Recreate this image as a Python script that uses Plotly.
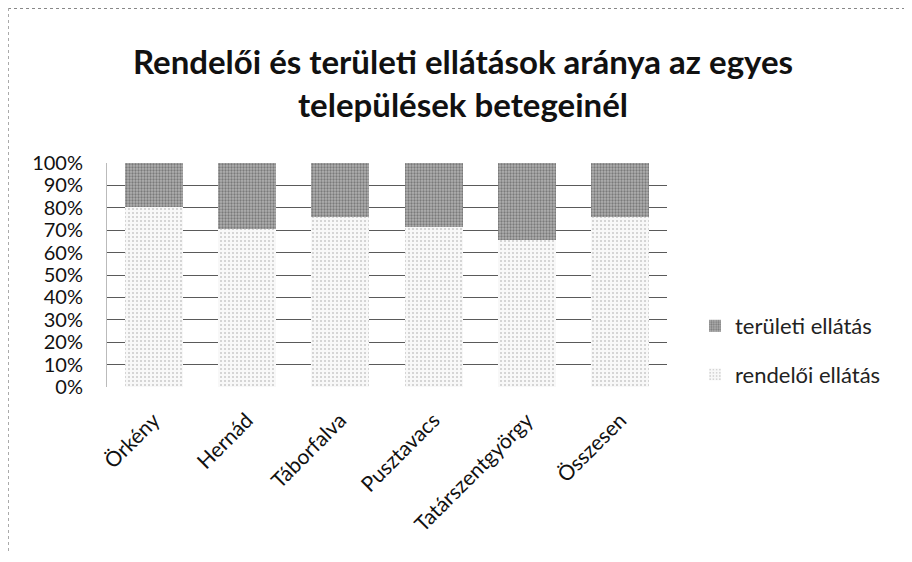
import plotly.graph_objects as go

categories = ["Örkény", "Hernád", "Táborfalva", "Pusztavacs", "Tatárszentgyörgy", "Összesen"]
rendeloi = [0.805, 0.705, 0.76, 0.715, 0.655, 0.76]
teruleti = [1 - v for v in rendeloi]
series_names = ["rendelői ellátás", "területi ellátás"]
title_text = "Rendelői és területi ellátások aránya az egyes<br>települések betegeinél"

# page has an 8px body margin; figure coordinates = page coordinates - 8
OFF = 8
W, H = 896, 546
L = 107 - OFF
T = 163 - OFF
R = W - (667 - OFF)
B = H - (387 - OFF)
pw = W - L - R
ph = H - T - B

def px_x(x):  # page px -> paper
    return (x - OFF - L) / pw

def px_y(y):
    return (H - B - (y - OFF)) / ph

fig = go.Figure()
fig.add_trace(go.Bar(
    x=categories, y=rendeloi, name=series_names[0], legendgroup="a", legendrank=2,
    marker=dict(color="white", line=dict(width=0),
                pattern=dict(shape=".", fgcolor="#a0a0a0", bgcolor="#f8f8f8", size=4, solidity=0.22)),
))
fig.add_trace(go.Bar(
    x=categories, y=teruleti, name=series_names[1], legendgroup="b", legendrank=1,
    marker=dict(color="#8a8a8a", line=dict(width=0),
                pattern=dict(shape=".", fgcolor="#444444", bgcolor="#b0b0b0", size=3, solidity=0.45)),
))

fig.update_layout(
    width=W, height=H,
    barmode="stack", bargap=0.38,
    paper_bgcolor="white", plot_bgcolor="white",
    margin=dict(l=L, r=R, t=T, b=B, autoexpand=False),
    font=dict(family="Lato, 'Open Sans', sans-serif", color="#111"),
    title=dict(text="<b>" + title_text + "</b>", x=(463 - OFF) / W, xref="container", xanchor="center",
               y=1 - (74 - OFF) / H, yref="container", yanchor="top", font=dict(size=33, color="#111")),
    showlegend=True,
    legend=dict(x=px_x(695), y=px_y(305), xanchor="left", yanchor="top",
                traceorder="grouped", tracegroupgap=17, font=dict(size=22, color="#222"),
                itemwidth=30, bgcolor="rgba(0,0,0,0)"),
    shapes=[
        dict(type="line", xref="paper", yref="paper", x0=px_x(8), x1=px_x(912), y0=px_y(8.5), y1=px_y(8.5),
             line=dict(color="#888", width=1, dash="dot")),
        dict(type="line", xref="paper", yref="paper", x0=px_x(8.5), x1=px_x(8.5), y0=px_y(8), y1=px_y(554),
             line=dict(color="#aaa", width=1, dash="dot")),
    ],
)
fig.update_yaxes(range=[0, 1], tickformat=".0%", dtick=0.1, showgrid=True, gridcolor="#5a5a5a",
                 gridwidth=1, tickfont=dict(size=20, color="#111"), ticks="", ticklabelstandoff=19,
                 showline=True, linecolor="#bbb", linewidth=1, zeroline=False, automargin=False)
fig.update_xaxes(tickangle=-45, tickfont=dict(size=21, color="#111"), showline=False, ticks="",
                 ticklabelstandoff=16, automargin=False)

fig.write_html("out.html")
